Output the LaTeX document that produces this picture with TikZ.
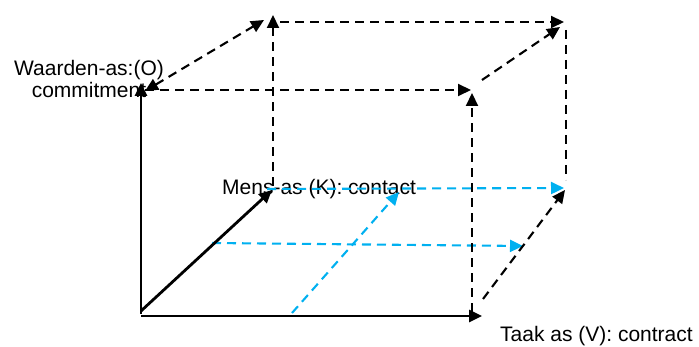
\documentclass[tikz,border=0pt]{standalone}
\usepackage{fontspec}
\setmainfont{Liberation Sans}
\usetikzlibrary{arrows.meta}
\definecolor{skyblue}{RGB}{0,176,240}
\begin{document}
\begin{tikzpicture}[x=1pt,y=-1pt,
  tip/.tip={Triangle[length=13pt,width=12pt]},
  axis/.style={line width=2.8pt,-tip},
  edge/.style={line width=2.1pt,dash pattern=on 9pt off 6pt,-tip},
  bedge/.style={edge,draw=skyblue,-{Triangle[length=13pt,width=12pt,fill=skyblue]}},
  lbl/.style={font=\fontsize{21}{22}\selectfont,inner sep=0pt}]
\useasboundingbox (0,0) rectangle (699,347);
% corners
\coordinate (A) at (141,314);
\coordinate (Atop) at (141,83);
\coordinate (Ah) at (141,316);
\coordinate (Aright) at (482,316);
\coordinate (Ad) at (141,311);
\coordinate (E) at (272,190);
\coordinate (B) at (145,90);
\coordinate (D) at (471,90);
\coordinate (Cb) at (472,312);
\coordinate (Dt) at (472,93);
\coordinate (Bd) at (145,91);
\coordinate (Fd) at (264,20);
\coordinate (Eb) at (273,186);
\coordinate (F) at (273,15);
\coordinate (Fh) at (280,22);
\coordinate (G) at (564,22);
\coordinate (Dd) at (482,80);
\coordinate (Gd) at (560,27);
\coordinate (Gv) at (566,30);
\coordinate (Hv) at (566,180);
\coordinate (Cd) at (483,299);
\coordinate (H) at (565,190);
\coordinate (Eh) at (267,189);
\coordinate (Hh) at (564,188);
\coordinate (M1) at (212,243);
\coordinate (M2) at (523,246);
\coordinate (N1) at (292,313);
\coordinate (N2) at (399,192);
% labels
\node[lbl,align=center] (waarden) at (89,79) {Waarden-as:(O)\\commitment};
\node[lbl,anchor=west] (mens) at (222,189) {Mens-as (K): contact};
\node[lbl,anchor=west] (taak) at (500,336) {Taak as (V): contract};
% blue dashed
\draw[bedge] (Eh) -- (Hh);
\draw[bedge] (M1) -- (M2);
\draw[bedge] (N1) -- (N2);
% black dashed
\draw[edge] (B) -- (D);
\draw[edge,tip-tip] (Bd) -- (Fd);
\draw[edge] (Cb) -- (Dt);
\draw[edge] (Eb) -- (F);
\draw[edge] (Fh) -- (G);
\draw[edge] (Dd) -- (Gd);
\draw[edge,-] (Gv) -- (Hv);
\draw[edge] (Cd) -- (H);
% axes
\draw[axis] (A) -- (Atop);
\draw[axis] (Ah) -- (Aright);
\draw[axis] (Ad) -- (E);
\end{tikzpicture}
\end{document}
